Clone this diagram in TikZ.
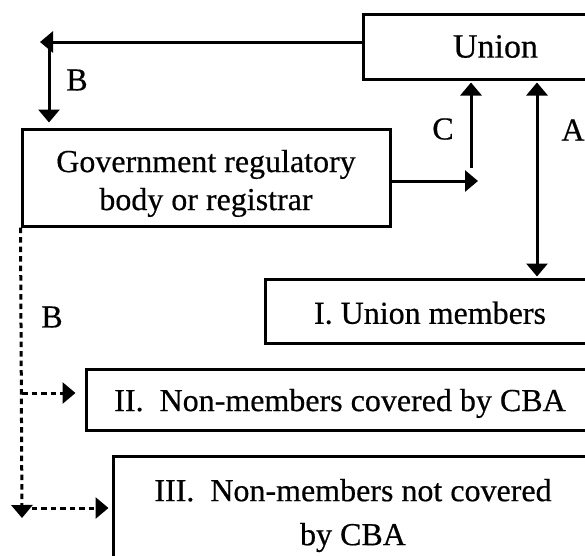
\documentclass[tikz,border=0pt]{standalone}
\usepackage{fontspec}
\setmainfont{Liberation Serif}[FakeBold=0.5]
\usetikzlibrary{arrows.meta}
\begin{document}
\begin{tikzpicture}[x=1pt,y=-1pt,
  box/.style={draw, line width=3pt, rectangle, inner sep=0pt, align=center, font=\fontsize{32}{38}\selectfont},
  lbl/.style={inner sep=0pt, font=\fontsize{32}{38}\selectfont},
  ln/.style={line width=3pt},
  dotln/.style={line width=3pt, dash pattern=on 5.5pt off 4pt},
  arr/.style={-{Triangle[length=13pt,width=21pt]}},
  darr/.style={{Triangle[length=13pt,width=21pt]}-{Triangle[length=13pt,width=21pt]}}
]
\useasboundingbox (0,0) rectangle (585,555);
\clip (0,0) rectangle (585,555);

% boxes
\node[box, minimum width=265pt, minimum height=65pt, font=\fontsize{34}{40}\selectfont] (union) at (495.5,46.5) {Union};
\node[box, minimum width=368pt, minimum height=97pt] (gov) at (206,177.5) {\rule{0pt}{34pt}Government regulatory\\body or registrar};
\node[box, minimum width=330pt, minimum height=64pt] (mem) at (430,311) {\rule{0pt}{26pt}I. Union members};
\node[box, minimum width=508pt, minimum height=61pt] (cov) at (340,399.5) {\rule{0pt}{30pt}II.\ \ Non-members covered by CBA};
\node[box, minimum width=480pt, minimum height=119pt, font=\fontsize{32}{44}\selectfont] (ncov) at (353,515.5) {III.\ \ Non-members not covered\\by CBA};

% helper coordinates
\coordinate (bl) at (40,42);
\coordinate (bc) at (49,42);
\coordinate (ce) at (478,181);
\coordinate (cs) at (471,168);
\coordinate (ax) at (537,100);
\coordinate (dend) at (22,518);
\coordinate (d2) at (22,393);
\coordinate (d3) at (22,508);

% B: union to government body
\draw[ln,arr] (bl -| union.west) -- (bl);
\draw[ln,arr,shorten >=5pt] (bc) -- (bc |- gov.north);

% C: government body to union
\draw[ln,arr] (ce -| gov.east) -- (ce);
\draw[ln,arr,shorten >=2pt] (cs) -- (cs |- union.south);

% A: union <-> members
\draw[ln,darr,shorten <=2pt,shorten >=1pt] (ax |- union.south) -- (ax |- mem.north);

% dotted B branch
\draw[dotln,arr] (gov.south west) -- (dend);
\draw[dotln,arr,shorten >=9pt] (d2) -- (d2 -| cov.west);
\draw[dotln,arr,shorten >=3pt] (d3) -- (d3 -| ncov.west);

% labels
\node[lbl] (lb1) at (77,80) {B};
\node[lbl] (lb2) at (52,317) {B};
\node[lbl] (lc) at (443,129) {C};
\node[lbl] (la) at (573,130) {A};
\end{tikzpicture}
\end{document}
